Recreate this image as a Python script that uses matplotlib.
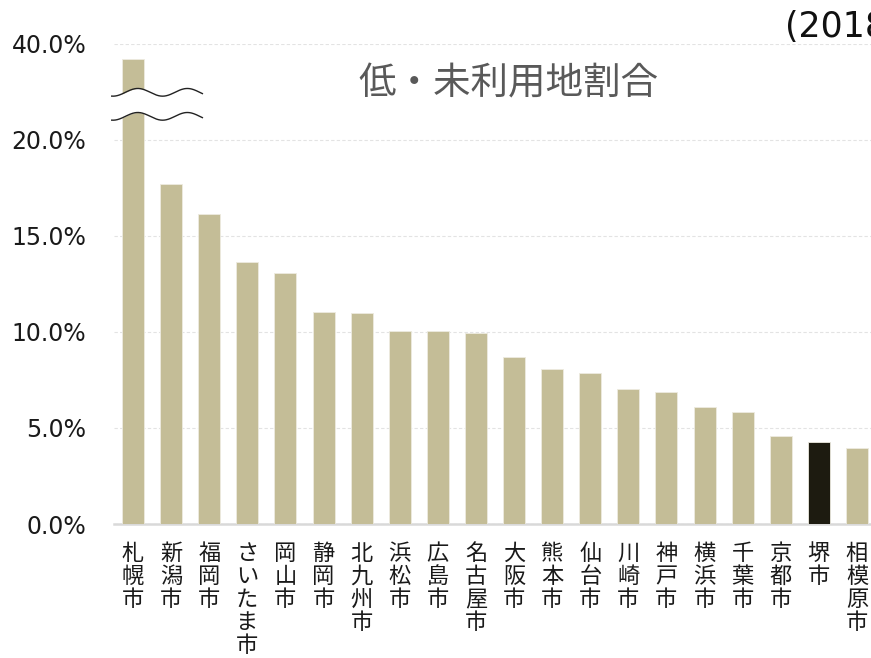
import numpy as np
import matplotlib.pyplot as plt

# 低・未利用地割合 (%), 政令市
cities = ['札幌市', '新潟市', '福岡市', 'さいたま市', '岡山市', '静岡市', '北九州市',
          '浜松市', '広島市', '名古屋市', '大阪市', '熊本市', '仙台市', '川崎市',
          '神戸市', '横浜市', '千葉市', '京都市', '堺市', '相模原市']
rates = [36.7, 17.7, 16.15, 13.65, 13.05, 11.05, 10.98, 10.03, 10.02, 9.96,
         8.71, 8.09, 7.88, 7.0, 6.85, 6.07, 5.83, 4.56, 4.29, 3.96]
highlight = '堺市'

tick_values = [0, 5, 10, 15, 20, 40]
tick_labels = ['0.0%', '5.0%', '10.0%', '15.0%', '20.0%', '40.0%']

BASE_COLOR = '#C4BD97'
HIGHLIGHT_COLOR = '#1D1B10'
JP_FONT = ['Noto Sans CJK JP', 'DejaVu Sans']

# broken axis: 20-40% squeezed into 20-25 on the axis
BREAK_LO, BREAK_HI, SCALE_HI = 20.0, 40.0, 25.0


def to_axis(v):
    if v <= BREAK_LO:
        return v
    return BREAK_LO + (v - BREAK_LO) * (SCALE_HI - BREAK_LO) / (BREAK_HI - BREAK_LO)


fig = plt.figure(figsize=(8.71, 6.58), dpi=100)
ax = fig.add_axes([114 / 871, 134 / 658, 762 / 871, 480.5 / 658])

x = np.arange(len(cities))
heights = [to_axis(v) for v in rates]
colors = [HIGHLIGHT_COLOR if c == highlight else BASE_COLOR for c in cities]
ax.bar(x, heights, width=0.58, color=colors, edgecolor='#EDEBE0', linewidth=0.6, zorder=3)

ax.set_xlim(-0.5, len(cities) - 0.5)
ax.set_ylim(0, SCALE_HI)
ax.set_yticks([to_axis(v) for v in tick_values])
ax.set_yticklabels(tick_labels, fontsize=17, color='#1a1a1a', family='DejaVu Sans')
ax.set_xticks(x)
ax.set_xticklabels(['\n'.join(c) for c in cities], fontsize=16, family=JP_FONT,
                   linespacing=1.0, va='top', color='#1a1a1a')
ax.tick_params(axis='y', length=0, pad=20)
ax.tick_params(axis='x', length=0, pad=13)

for s in ['top', 'right', 'left']:
    ax.spines[s].set_visible(False)
ax.spines['bottom'].set_color('#D9D9D9')
ax.spines['bottom'].set_linewidth(1.8)
ax.yaxis.grid(True, color='#E3E3E3', linestyle=(0, (3, 2)), linewidth=0.8, zorder=0)
ax.set_axisbelow(True)

# wavy break marks over the first bar
wx = np.linspace(-0.56, 1.82, 200)
wave = 0.2 * np.sin((wx + 0.2) * 2 * np.pi / 1.3)
upper = 22.46 + wave
lower = 21.21 + wave
ax.fill_between(wx, lower, upper, color='white', zorder=4, linewidth=0)
ax.plot(wx, upper, color='#222222', linewidth=1.0, zorder=5, clip_on=False)
ax.plot(wx, lower, color='#222222', linewidth=1.0, zorder=5, clip_on=False)

fig.text(508 / 871, 1 - 84 / 658, '低・未利用地割合', fontsize=27, color='#595959',
         family=JP_FONT, ha='center', va='center')
fig.text(785 / 871, 1 - 27 / 658, '(2018年)', fontsize=25, color='#111111',
         family=['DejaVu Sans', 'Noto Sans CJK JP'], ha='left', va='center')

fig.savefig('out.png', dpi=100)
